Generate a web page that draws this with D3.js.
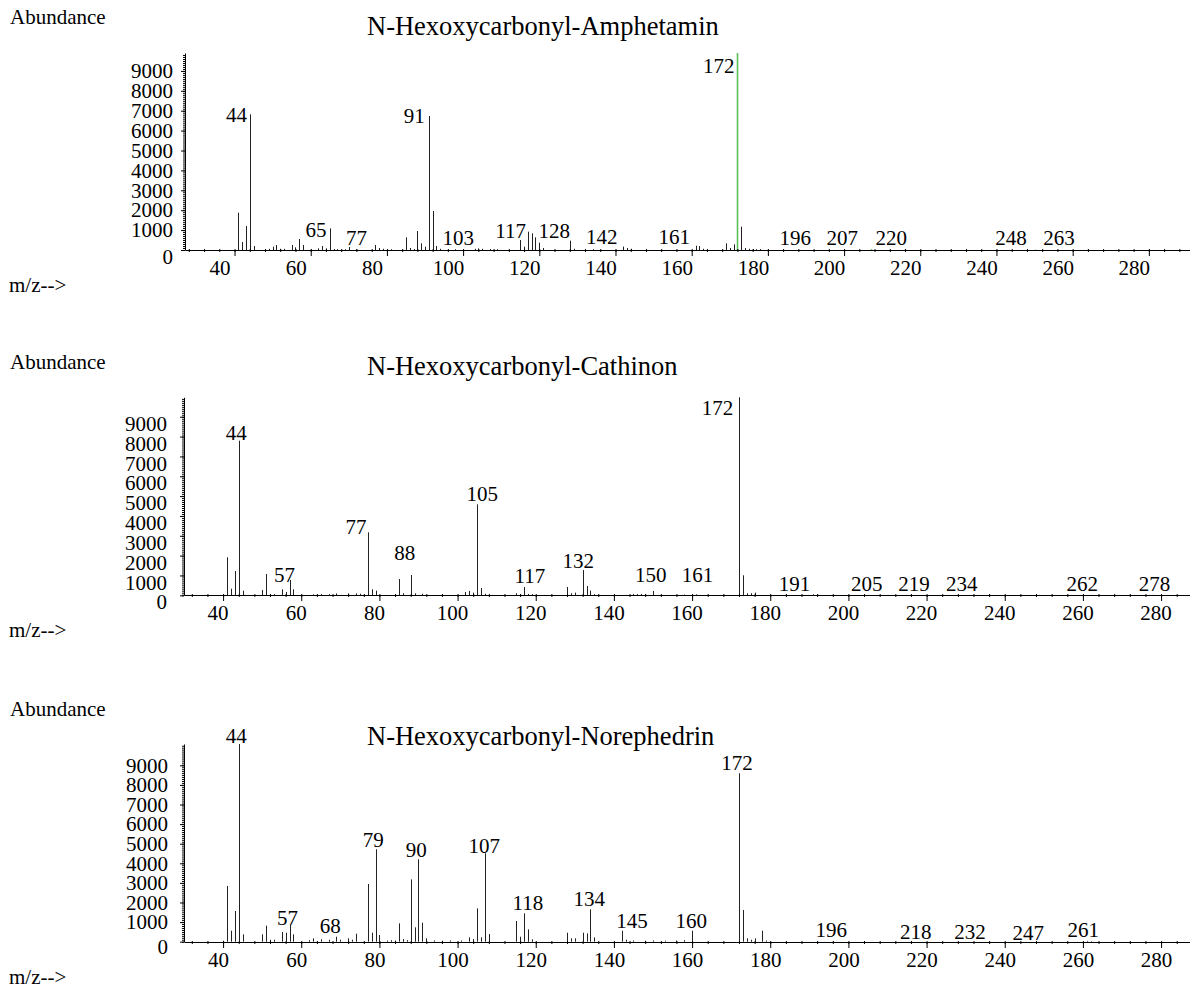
<!DOCTYPE html>
<html><head><meta charset="utf-8">
<script src="https://cdn.jsdelivr.net/npm/d3@7"></script>
<style>
body{margin:0;background:#fff}
svg{display:block}
</style>
</head><body>
<svg id="c" width="1190" height="988"></svg>
<script>
// ---------------- DATA ----------------
const titles = ["N-Hexoxycarbonyl-Amphetamin", "N-Hexoxycarbonyl-Cathinon", "N-Hexoxycarbonyl-Norephedrin"];
const yAxisLabel = "Abundance";
const xAxisLabel = "m/z-->";
const xTickValues = [40, 60, 80, 100, 120, 140, 160, 180, 200, 220, 240, 260, 280];
const yTickValues = [0, 1000, 2000, 3000, 4000, 5000, 6000, 7000, 8000, 9000];

// [m/z, abundance]
const amphPeaks = [[41,1876],[42,402],[43,1206],[44,6819],[45,201],[48,50],[49,60],[50,168],[51,251],[52,60],[53,60],[55,251],[56,134],[57,553],[58,251],[60,40],[62,83],[63,201],[64,83],[65,1088],[66,50],[67,40],[69,40],[70,150],[72,40],[77,251],[78,100],[79,60],[81,40],[85,636],[86,100],[87,50],[88,955],[89,335],[90,168],[91,6733],[92,1960],[93,201],[94,60],[98,40],[103,60],[104,80],[105,60],[107,50],[109,40],[115,502],[116,168],[117,922],[118,837],[119,636],[120,369],[121,100],[128,469],[129,60],[134,40],[142,171],[143,100],[144,60],[161,218],[162,201],[163,60],[169,335],[170,100],[171,284],[173,1173],[174,100],[175,60],[176,50],[177,40],[178,50]];
const amphGreenPeaks = [[172,9900],[207,40],[216,20],[250,20],[264,25]];
// [text, label centre m/z, label baseline abundance]
const amphLabels = [["44",40.5,6457],["65",61.4,678],["77",72.0,251],["91",87.2,6382],["103",98.7,251],["117",112.5,588],["128",123.9,588],["142",136.4,302],["161",155.4,302],["172",167.1,8920],["196",187.2,251],["207",199.5,251],["220",212.4,251],["248",243.8,251],["263",256.4,251]];

const cathPeaks = [[41,1916],[42,333],[43,1225],[44,7792],[45,232],[50,270],[51,1073],[52,58],[53,58],[55,302],[56,168],[57,771],[58,302],[63,48],[65,58],[67,58],[69,96],[72,96],[74,96],[75,77],[77,3174],[78,302],[79,235],[85,821],[86,101],[88,1023],[89,101],[91,77],[102,168],[103,219],[104,135],[105,4586],[106,370],[107,77],[115,101],[116,58],[117,420],[118,67],[119,58],[128,420],[129,101],[130,135],[132,1276],[133,471],[134,235],[135,58],[145,67],[146,58],[147,67],[148,58],[150,219],[158,38],[161,48],[172,9980],[173,1008],[174,101],[175,101],[176,135],[191,48],[262,20],[278,24]];
const cathLabels = [["44",43.4,7828],["57",55.7,670],["77",74.0,3089],["88",86.5,1779],["105",106.3,4728],["117",118.5,645],["132",130.9,1401],["150",149.4,655],["161",161.4,655],["172",166.5,9063],["191",186.2,232],["205",204.7,232],["219",216.8,232],["234",229.0,232],["262",259.8,232],["278",278.3,232]];

const norPeaks = [[40,50],[41,2842],[42,561],[43,1566],[44,10087],[45,374],[50,374],[51,816],[52,100],[53,100],[55,493],[56,459],[57,850],[58,374],[62,80],[63,170],[65,120],[67,100],[69,255],[70,100],[72,170],[73,100],[74,408],[77,2944],[78,459],[79,4714],[80,340],[82,60],[83,80],[84,60],[85,936],[86,136],[87,80],[88,3180],[89,734],[90,4204],[91,970],[92,170],[94,60],[96,50],[98,60],[101,60],[103,221],[104,136],[105,1701],[106,221],[107,4510],[108,391],[115,1055],[116,255],[117,1448],[118,629],[119,119],[128,459],[129,170],[130,170],[132,459],[133,425],[134,1650],[135,221],[142,561],[143,100],[145,60],[148,50],[150,60],[153,50],[156,60],[158,80],[160,561],[172,8592],[173,1617],[174,170],[175,100],[176,170],[178,561],[179,60],[196,30],[261,40],[262,30]];
const norLabels = [["44",43.4,10138],["57",56.5,827],["68",67.4,444],["79",78.4,4857],["90",89.4,4321],["107",106.8,4525],["118",118.0,1592],["134",133.7,1796],["145",144.6,724],["160",159.8,724],["172",171.5,8735],["196",195.6,240],["218",217.2,122],["232",231.1,122],["247",246.0,87],["261",260.1,255]];

// ---------------- LAYOUT ----------------
const FONT = '"Liberation Serif","Times New Roman",Times,serif';
const W = 1190;
const panels = [
  {title: titles[0], peaks: amphPeaks, green: amphGreenPeaks, labels: amphLabels, xDom: [27, 290.8], yMax: 9900, left: 185, base: 250, top: 53, titleY: 35, tickDx: -15, yPad: 8, yLabShift: 0, zeroShift: 6.5},
  {title: titles[1], peaks: cathPeaks, green: [], labels: cathLabels, xDom: [30, 287.4], yMax: 9980, left: 184, base: 595.3, top: 397.3, titleY: 375, tickDx: -5.5, yPad: 13, yLabShift: 7, zeroShift: 6.5},
  {title: titles[2], peaks: norPeaks, green: [], labels: norLabels, xDom: [30, 287.4], yMax: 10087, left: 184, base: 941.7, top: 744, titleY: 745, tickDx: -5, yPad: 12, yLabShift: 0, zeroShift: 5}
];

const svg = d3.select("#c");
svg.append("rect").attr("width", W).attr("height", 988).attr("fill", "#fff");

const px = v => Math.round(v) + 0.5;

panels.forEach(p => {
  const x = d3.scaleLinear().domain(p.xDom).range([p.left, W]);
  const y = d3.scaleLinear().domain([0, p.yMax]).range([p.base, p.top]);
  const g = svg.append("g");

  // peaks
  g.append("g").selectAll("line").data(p.peaks).join("line")
    .attr("x1", d => px(x(d[0]))).attr("x2", d => px(x(d[0])))
    .attr("y1", y(0)).attr("y2", d => y(d[1]))
    .attr("stroke", "#222").attr("stroke-width", 1);
  g.append("g").selectAll("line").data(p.green).join("line")
    .attr("x1", d => px(x(d[0]))).attr("x2", d => px(x(d[0])))
    .attr("y1", y(0)).attr("y2", d => y(d[1]))
    .attr("stroke", "#5cbf5c").attr("stroke-width", 1.6);

  // x minor ticks
  const xMinor = d3.range(Math.ceil(p.xDom[0] / 4) * 4, p.xDom[1], 4);
  const gxm = g.append("g").attr("transform", `translate(0,${Math.round(p.base)})`)
    .call(d3.axisBottom(x).tickValues(xMinor).tickSize(2).tickSizeOuter(0).tickFormat(""));
  gxm.select(".domain").remove();
  gxm.selectAll(".tick line").attr("y1", -1).attr("y2", 2);

  // x major axis
  const gx = g.append("g").attr("transform", `translate(0,${Math.round(p.base)})`)
    .call(d3.axisBottom(x).tickValues(xTickValues).tickSize(6).tickSizeOuter(0).tickPadding(4).tickFormat(d3.format("d")));
  gx.attr("font-family", FONT).attr("font-size", 21);
  gx.selectAll(".tick text").attr("dx", p.tickDx).attr("fill", "#000");

  // y minor ticks
  const gym = g.append("g").attr("transform", `translate(${p.left},0)`)
    .call(d3.axisLeft(y).tickValues(d3.range(0, p.yMax, 100)).tickSize(2).tickSizeOuter(0).tickFormat(""));
  gym.select(".domain").remove();

  // y major axis
  const gy = g.append("g").attr("transform", `translate(${p.left},0)`)
    .call(d3.axisLeft(y).tickValues(yTickValues).tickSize(4).tickSizeOuter(0).tickPadding(p.yPad).tickFormat(d3.format("d")));
  gy.attr("font-family", FONT).attr("font-size", 21);
  gy.selectAll(".tick text").attr("fill", "#000")
    .attr("dy", d => d === 0 ? `${p.zeroShift + 6.7}px` : `${p.yLabShift + 6.7}px`);

  // peak labels
  g.append("g").selectAll("text").data(p.labels).join("text")
    .attr("x", d => x(d[1])).attr("y", d => y(d[2]))
    .attr("text-anchor", "middle")
    .attr("font-family", FONT).attr("font-size", 21).attr("fill", "#000")
    .text(d => d[0]);

  // title and axis captions
  g.append("text").attr("x", 367).attr("y", p.titleY)
    .attr("font-family", FONT).attr("font-size", 26.5).attr("fill", "#000").text(p.title);
  g.append("text").attr("x", 10).attr("y", p.base - 226)
    .attr("font-family", FONT).attr("font-size", 21).attr("fill", "#000").text(yAxisLabel);
  g.append("text").attr("x", 9).attr("y", p.base + 42)
    .attr("font-family", FONT).attr("font-size", 21).attr("fill", "#000").text(xAxisLabel);
});
</script>
</body></html>
